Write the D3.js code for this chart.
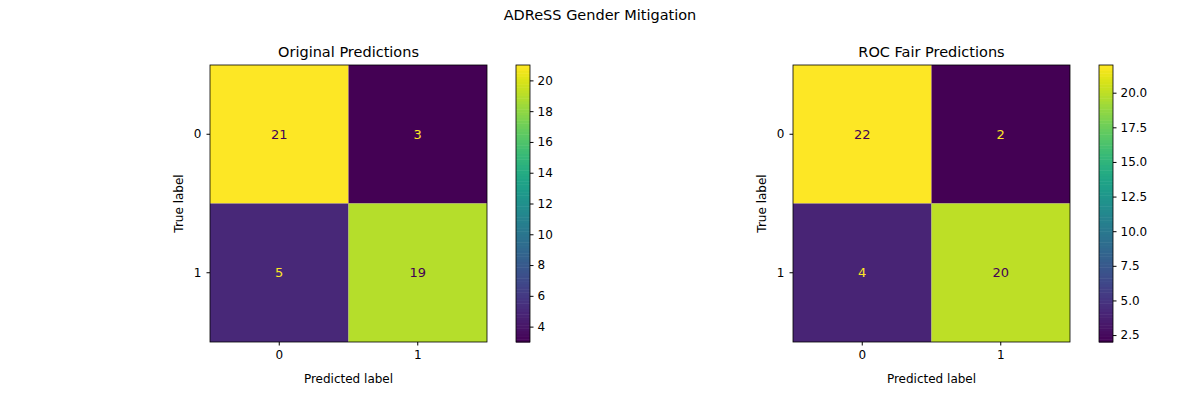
<!DOCTYPE html>
<html>
<head>
<meta charset="utf-8">
<script src="https://d3js.org/d3.v7.min.js"></script>
<style>
  body { margin: 0; background: #fff; }
  text { font-family: "DejaVu Sans", sans-serif; fill: #000; }
</style>
</head>
<body>
<svg id="chart" width="1200" height="400"></svg>
<script>
const classes = ['0', '1'];
const titles = ['Original Predictions', 'ROC Fair Predictions'];
const originalMatrix = [[21, 3], [5, 19]];
const rocMatrix = [[22, 2], [4, 20]];
const originalTicks = [4, 6, 8, 10, 12, 14, 16, 18, 20];
const rocTicks = [2.5, 5.0, 7.5, 10.0, 12.5, 15.0, 17.5, 20.0];

const svg = d3.select('#chart');
svg.append('text').attr('x', 600).attr('y', 20).attr('text-anchor', 'middle')
  .style('font-size', '14.5px').text('ADReSS Gender Mitigation');

const panels = [
  { left: 210, matrix: originalMatrix, ticks: originalTicks, fmt: d3.format('d'), title: titles[0] },
  { left: 793, matrix: rocMatrix, ticks: rocTicks, fmt: d3.format('.1f'), title: titles[1] }
];
const plotTop = 65, size = 277, cbGap = 29, cbW = 14;

panels.forEach(p => {
  const g = svg.append('g');
  const vals = p.matrix.flat();
  const lo = d3.min(vals), hi = d3.max(vals);
  const color = d3.scaleSequential(d3.interpolateViridis).domain([lo, hi]);
  const x = d3.scaleBand().domain(classes).range([p.left, p.left + size]);
  const y = d3.scaleBand().domain(classes).range([plotTop, plotTop + size]);

  classes.forEach((r, i) => classes.forEach((c, j) => {
    const v = p.matrix[i][j];
    g.append('rect').attr('x', x(c)).attr('y', y(r))
      .attr('width', x.bandwidth()).attr('height', y.bandwidth()).attr('fill', color(v));
    g.append('text').attr('x', x(c) + x.bandwidth() / 2).attr('y', y(r) + y.bandwidth() / 2)
      .attr('text-anchor', 'middle').attr('dominant-baseline', 'central')
      .style('font-size', '13px')
      .style('fill', v < (lo + hi) / 2 ? d3.interpolateViridis(1) : d3.interpolateViridis(0))
      .text(v);
  }));
  g.append('rect').attr('x', p.left).attr('y', plotTop).attr('width', size).attr('height', size)
    .attr('fill', 'none').attr('stroke', '#000').attr('stroke-width', 0.8);

  const xa = g.append('g').attr('transform', `translate(0,${plotTop + size})`).call(d3.axisBottom(x).tickSizeOuter(0).tickSize(3.5).tickPadding(5));
  const ya = g.append('g').attr('transform', `translate(${p.left},0)`).call(d3.axisLeft(y).tickSizeOuter(0).tickSize(3.5).tickPadding(5));
  [xa, ya].forEach(a => { a.select('.domain').remove(); a.selectAll('text').style('font-size', '12px'); });

  g.append('text').attr('x', p.left + size / 2).attr('y', plotTop - 8).attr('text-anchor', 'middle')
    .style('font-size', '14.5px').text(p.title);
  g.append('text').attr('x', p.left + size / 2).attr('y', plotTop + size + 41).attr('text-anchor', 'middle')
    .style('font-size', '12px').text('Predicted label');
  g.append('text').attr('transform', `translate(${p.left - 27},${plotTop + size / 2}) rotate(-90)`)
    .attr('text-anchor', 'middle').style('font-size', '12px').text('True label');

  // colorbar
  const cx = p.left + size + cbGap;
  const cy = d3.scaleLinear().domain([lo, hi]).range([plotTop + size, plotTop]);
  const steps = d3.range(0, 100);
  g.selectAll(null).data(steps).enter().append('rect')
    .attr('x', cx).attr('width', cbW)
    .attr('y', d => cy(lo + (hi - lo) * (d + 1) / 100))
    .attr('height', size / 100 + 0.5)
    .attr('fill', d => color(lo + (hi - lo) * (d + 0.5) / 100));
  g.append('rect').attr('x', cx).attr('y', plotTop).attr('width', cbW).attr('height', size)
    .attr('fill', 'none').attr('stroke', '#000').attr('stroke-width', 0.8);
  const ca = g.append('g').attr('transform', `translate(${cx + cbW},0)`)
    .call(d3.axisRight(cy).tickValues(p.ticks).tickFormat(p.fmt).tickSize(3.5).tickPadding(4));
  ca.select('.domain').remove();
  ca.selectAll('text').style('font-size', '12px');
});
</script>
</body>
</html>
